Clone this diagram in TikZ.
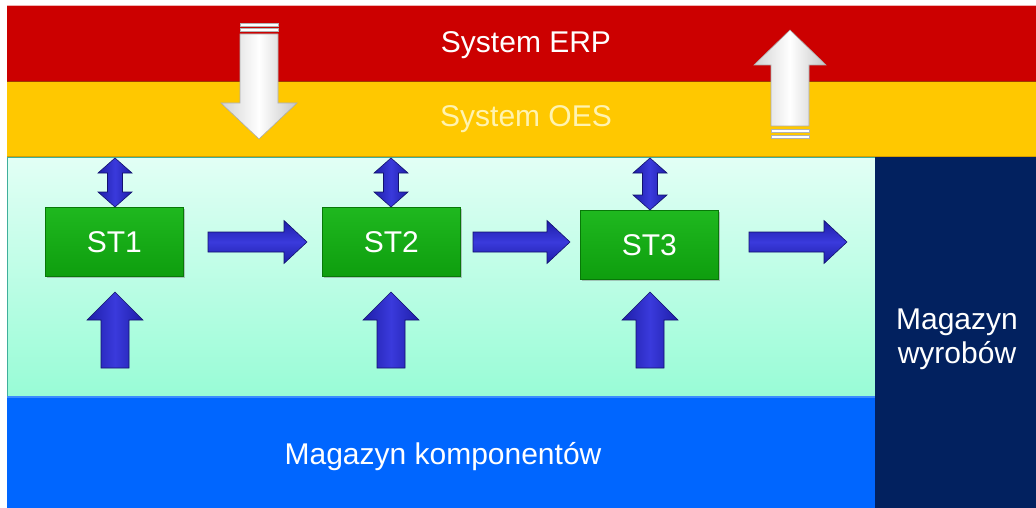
\documentclass[tikz,border=0pt]{standalone}
\usepackage{fontspec}
\setmainfont{Liberation Sans}
\usetikzlibrary{shadows}
\definecolor{erpred}{HTML}{CC0000}
\definecolor{oesyellow}{HTML}{FFC800}
\definecolor{oestext}{HTML}{FFF3B0}
\definecolor{minttop}{HTML}{E2FFF5}
\definecolor{mintbot}{HTML}{98FCD6}
\definecolor{mintedge}{HTML}{3FAF9C}
\definecolor{kompblue}{HTML}{0066FF}
\definecolor{kompedge}{HTML}{3A8CFF}
\definecolor{navy}{HTML}{02215F}
\definecolor{stgreen}{HTML}{0E9E0E}
\definecolor{stgreenlt}{HTML}{1FB81F}
\definecolor{stedge}{HTML}{087808}
\definecolor{arrblue}{HTML}{1E1EA8}
\definecolor{arrbluelt}{HTML}{3A3ADC}
\definecolor{arredge}{HTML}{12126E}
\definecolor{erpshadow}{HTML}{A03A00}
\definecolor{oesshadow}{HTML}{D89E00}
\begin{document}
\begin{tikzpicture}[x=1pt,y=-1pt,
  lbl/.style={font=\fontsize{30}{34}\selectfont},
  band/.style={anchor=north west, inner sep=0pt, outer sep=0pt, lbl},
  stbox/.style={anchor=north west, inner sep=0pt, minimum width=138pt, minimum height=69pt,
    top color=stgreenlt, bottom color=stgreen, draw=stedge, line width=0.8pt, text=white, lbl,
    drop shadow={opacity=0.45, shadow xshift=2pt, shadow yshift=-2pt}},
  varrow/.style={left color=arrblue, right color=arrblue, middle color=arrbluelt, draw=arredge, line width=0.6pt, line join=miter},
  harrow/.style={top color=arrblue, bottom color=arrblue, middle color=arrbluelt, draw=arredge, line width=0.6pt, line join=miter},
  warrow/.style={left color=gray!35, right color=gray!45, middle color=white, draw=gray!65, line width=0.6pt},
  wstripe/.style={fill=white, draw=gray!60, line width=0.5pt}]
\useasboundingbox (0,0) rectangle (1036,508);
\fill[white] (0,0) rectangle (1036,508);
% bands
\node[band, fill=erpred, minimum width=1029pt, minimum height=76pt] (erp) at (7,5) {};
\node[lbl, text=white, anchor=base] (erpt) at (526,53) {System ERP};
\draw[white!70!erpred, line width=0.8pt] (erp.north west) -- (erp.north east);
\node[band, fill=oesyellow, minimum width=1029pt, minimum height=76pt] (oes) at (7,81) {};
\node[lbl, text=oestext, anchor=base] (oest) at (526,127) {System OES};
\draw[erpshadow, line width=1.5pt] (7,81.5) -- (1036,81.5);
\draw[oesshadow, line width=1.2pt] (7,156.5) -- (1036,156.5);
\node[band, top color=minttop, bottom color=mintbot, draw=mintedge, line width=0.8pt, minimum width=868pt, minimum height=239pt] (prod) at (7,157.5) {};
\node[band, fill=kompblue, minimum width=868pt, minimum height=112pt] (komp) at (7,396) {};
\node[lbl, text=white, anchor=base] (kompt) at (443,464) {Magazyn komponentów};
\draw[kompedge, line width=1.5pt] ([yshift=-0.75pt]komp.north west) -- ([yshift=-0.75pt]komp.north east);
\node[band, fill=navy, minimum width=161pt, minimum height=351pt] (wyr) at (875,157) {};
\node[lbl, text=white, anchor=base] (wyr1) at (957,329) {Magazyn};
\node[lbl, text=white, anchor=base] (wyr2) at (957,363) {wyrobów};
% stations
\node[stbox] (st1) at (45,207) {ST1};
\node[stbox] (st2) at (322,207) {ST2};
\node[stbox] (st3) at (580,210) {ST3};
% double arrows to OES
\foreach \cx/\bt in {115/207, 391/207, 650/210}{
  \draw[varrow] (\cx,158) -- (\cx+17,173) -- (\cx+7.5,173) -- (\cx+7.5,\bt-15) -- (\cx+17,\bt-15)
    -- (\cx,\bt) -- (\cx-17,\bt-15) -- (\cx-7.5,\bt-15) -- (\cx-7.5,173) -- (\cx-17,173) -- cycle;
}
% up arrows from components
\foreach \cx in {115, 391, 650}{
  \draw[varrow] (\cx,292) -- (\cx+28,320) -- (\cx+14,320) -- (\cx+14,368) -- (\cx-14,368)
    -- (\cx-14,320) -- (\cx-28,320) -- cycle;
}
% horizontal arrows
\foreach \xa/\xb in {208/307, 473/570, 749/847}{
  \draw[harrow] (\xa,232) -- (\xb-23,232) -- (\xb-23,220.5) -- (\xb,242) -- (\xb-23,263.5)
    -- (\xb-23,252) -- (\xa,252) -- cycle;
}
% big white arrows
\draw[wstripe] (240,23) rectangle (278,26);
\draw[wstripe] (240,28.5) rectangle (278,31.5);
\draw[warrow] (240,34) -- (278,34) -- (278,103) -- (297,103) -- (259,139) -- (221,103) -- (240,103) -- cycle;
\draw[warrow] (790,30) -- (826,65) -- (809,65) -- (809,126) -- (771,126) -- (771,65) -- (754,65) -- cycle;
\draw[wstripe] (771,129.5) rectangle (809,132.5);
\draw[wstripe] (771,135.5) rectangle (809,138.5);
\end{tikzpicture}
\end{document}
